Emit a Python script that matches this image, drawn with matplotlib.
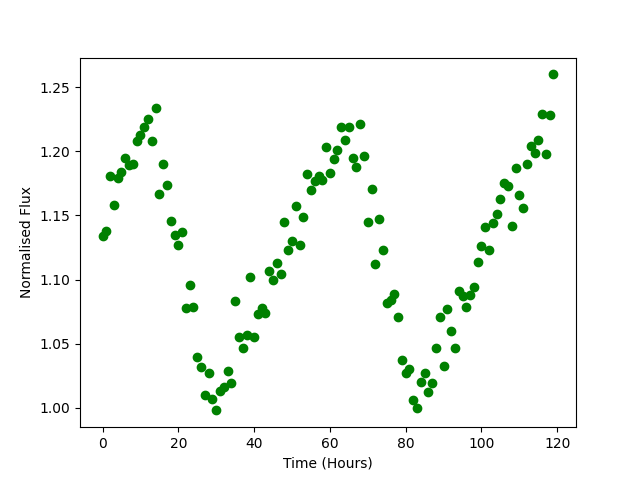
import matplotlib
matplotlib.use("Agg")
import matplotlib.pyplot as plt
import numpy as np

time_hours = list(range(120))
flux = [
    1.134, 1.138, 1.181, 1.158, 1.179, 1.184, 1.195, 1.189, 1.190, 1.208,
    1.213, 1.219, 1.225, 1.208, 1.234, 1.167, 1.190, 1.174, 1.146, 1.135,
    1.127, 1.137, 1.078, 1.096, 1.079, 1.040, 1.032, 1.010, 1.027, 1.007,
    0.998, 1.013, 1.016, 1.029, 1.019, 1.083, 1.055, 1.047, 1.057, 1.102,
    1.055, 1.073, 1.078, 1.074, 1.107, 1.100, 1.113, 1.104, 1.145, 1.123,
    1.130, 1.157, 1.127, 1.149, 1.182, 1.170, 1.177, 1.181, 1.178, 1.203,
    1.183, 1.194, 1.201, 1.219, 1.209, 1.219, 1.195, 1.188, 1.221, 1.196,
    1.145, 1.171, 1.112, 1.147, 1.123, 1.082, 1.084, 1.089, 1.071, 1.037,
    1.027, 1.030, 1.006, 1.000, 1.020, 1.027, 1.012, 1.019, 1.047, 1.071,
    1.033, 1.077, 1.060, 1.047, 1.091, 1.087, 1.079, 1.088, 1.094, 1.114,
    1.126, 1.141, 1.123, 1.144, 1.151, 1.163, 1.175, 1.173, 1.142, 1.187,
    1.166, 1.156, 1.190, 1.204, 1.199, 1.209, 1.229, 1.198, 1.228, 1.260,
]

fig, ax = plt.subplots(figsize=(6.4, 4.8), dpi=100)
ax.plot(time_hours, flux, 'o', color='green')
ax.set_xlabel('Time (Hours)')
ax.set_ylabel('Normalised Flux')
fig.savefig('out.png')
